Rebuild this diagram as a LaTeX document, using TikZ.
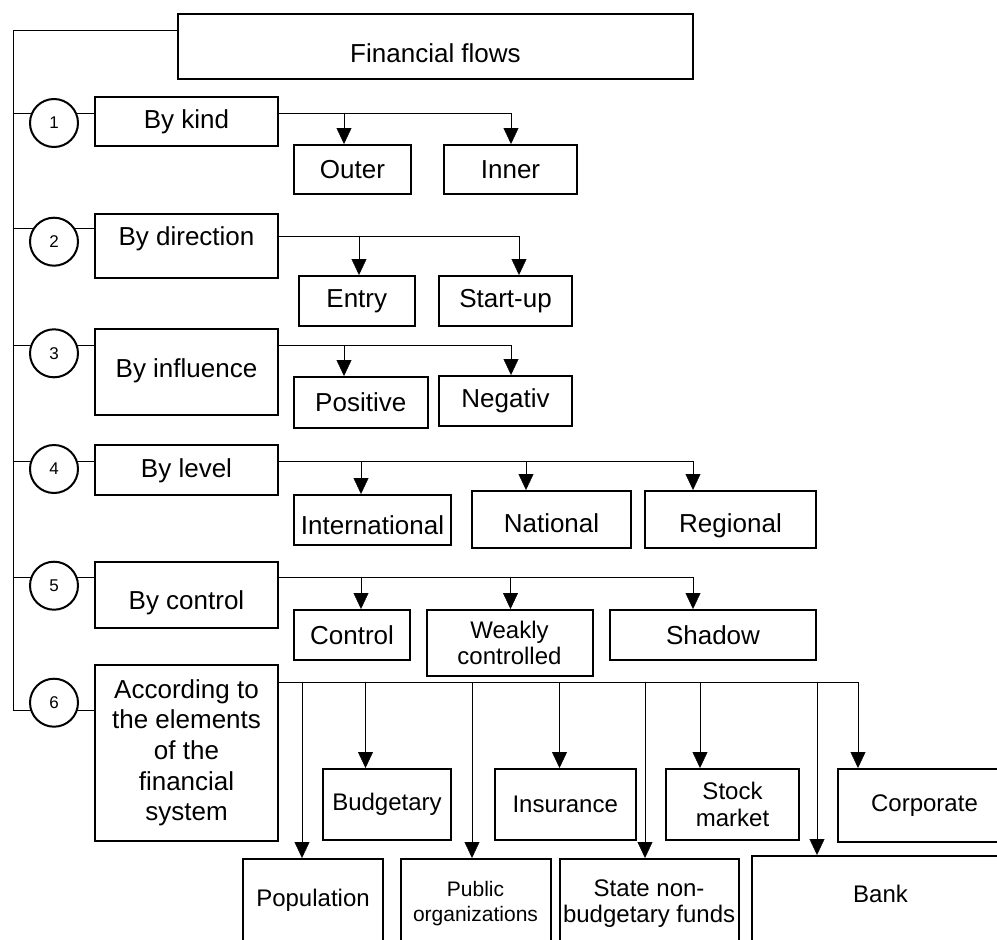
\documentclass[tikz,border=0pt]{standalone}
\usepackage{fontspec}
\setmainfont{Liberation Sans}
\usetikzlibrary{arrows.meta,backgrounds}

\newcommand*{\trunkx}{13}
\newcommand*{\numx}{54}
\newcommand*{\colx}{186.5}

\begin{document}
\begin{tikzpicture}
[
	x=1pt, y=-1pt,
	line width=2pt,
	box/.style={draw,fill=white,inner sep=0pt,align=center,font=\fontsize{26}{30.7}\selectfont},
	numcircle/.style={circle,draw,fill=white,inner sep=0pt,minimum size=48pt,font=\fontsize{17}{17}\selectfont},
	midtext/.style={font=\fontsize{24}{26.7}\selectfont},
	smalltext/.style={font=\fontsize{21}{25}\selectfont},
	arr/.style={-{Triangle[length=16pt,width=15pt]}}
]

	\useasboundingbox (0,0) rectangle (997,940);
	\clip (0,0) rectangle (997,940);

	% title
	\node[box,anchor=north,minimum width=515pt,text height=48.7pt,text depth=16.3pt] (flows) at (435.5,13) {Financial flows};

	% numbers
	\node[numcircle] (n1) at (\numx,123) {1};
	\node[numcircle] (n2) at (\numx,241.7) {2};
	\node[numcircle] (n3) at (\numx,353.3) {3};
	\node[numcircle] (n4) at (\numx,469) {4};
	\node[numcircle] (n5) at (\numx,585.7) {5};
	\node[numcircle] (n6) at (\numx,702.7) {6};

	% criteria
	\node[box,anchor=north,minimum width=183pt,text height=31.3pt,text depth=17.7pt] (kind) at (\colx,96) {By kind};
	\node[box,anchor=north,minimum width=183pt,text height=31.3pt,text depth=32.5pt] (direction) at (\colx,212.7) {By direction};
	\node[box,anchor=north,minimum width=183pt,text height=48.4pt,text depth=37.6pt] (influence) at (\colx,328.3) {By influence};
	\node[box,anchor=north,minimum width=183pt,text height=32.7pt,text depth=17.3pt] (level) at (\colx,444) {By level};
	\node[box,anchor=north,minimum width=183pt,text height=47.3pt,text depth=18.7pt] (control) at (\colx,561) {By control};
	\node[box,anchor=north,minimum width=183pt,text height=155.8pt,text depth=20.2pt] (elements) at (\colx,664) {According to\\the elements\\of the\\financial\\system};

	% kinds of flows
	\node[box,minimum width=117pt,minimum height=49pt] (outer) at (352.5,169.5) {Outer};
	\node[box,minimum width=133pt,minimum height=49pt] (inner) at (510.5,169.5) {Inner};
	\node[box,minimum width=116.5pt,minimum height=50pt] (entry) at (356.75,301) {Entry};
	\node[box,minimum width=133pt,minimum height=50pt] (startup) at (505.5,301) {Start-up};
	\node[box,minimum width=133.5pt,minimum height=51pt] (positive) at (360.75,402.5) {Positive};
	\node[box,minimum width=133pt,minimum height=50pt] (negativ) at (505.5,401) {Negativ};
	\node[box,anchor=north,minimum width=157pt,text height=39.3pt,text depth=10.7pt] (international) at (372.5,494) {International};
	\node[box,anchor=north,minimum width=159pt,text height=41pt,text depth=16pt] (national) at (551.5,490) {National};
	\node[box,anchor=north,minimum width=171pt,text height=41pt,text depth=16pt] (regional) at (730.5,490) {Regional};
	\node[box,minimum width=116pt,minimum height=50pt] (controlled) at (352,635) {Control};
	\node[box,midtext,minimum width=166pt,minimum height=66pt] (weakly) at (509.5,643) {Weakly\\controlled};
	\node[box,minimum width=206pt,minimum height=50pt] (shadow) at (713,635) {Shadow};

	% elements of the financial system
	\node[box,midtext,minimum width=128pt,minimum height=71pt] (budgetary) at (387,804.5) {Budgetary};
	\node[box,midtext,minimum width=141pt,minimum height=71pt] (insurance) at (565.2,804.5) {Insurance};
	\node[box,midtext,minimum width=133pt,minimum height=71pt] (stock) at (732.5,804.5) {Stock\\market};
	\node[box,midtext,minimum width=173pt,minimum height=73pt] (corporate) at (924.5,805.5) {Corporate};
	\node[box,midtext,anchor=north,minimum width=140pt,text height=47.7pt,text depth=60pt] (population) at (313,858) {Population};
	\node[box,smalltext,anchor=north,minimum width=150pt,text height=62pt,text depth=60pt] (public) at (475.5,858) {Public\\organizations};
	\node[box,midtext,anchor=north,minimum width=179pt,text height=63.7pt,text depth=60pt] (state) at (649.1,858) {State non-\\budgetary funds};
	\node[box,midtext,anchor=north,minimum width=257pt,text height=46.7pt,text depth=60pt] (bank) at (880.5,855) {Bank};

	\begin{scope}[on background layer]
		% trunk
		\coordinate (top) at (\trunkx,30);
		\coordinate (t1) at (\trunkx,112.7);
		\coordinate (t2) at (\trunkx,228.3);
		\coordinate (t3) at (\trunkx,345);
		\coordinate (t4) at (\trunkx,461);
		\coordinate (t5) at (\trunkx,576.7);
		\coordinate (t6) at (\trunkx,710);
		\draw (flows.west |- top) -- (top) -- (t6) -- (t6 -| elements.west);
		\foreach \t/\k in {t1/kind,t2/direction,t3/influence,t4/level,t5/control}
			\draw (\t) -- (\t -| \k.west);

		% 1
		\coordinate (b1a) at (344,112.7);
		\coordinate (b1b) at (511,112.7);
		\draw[arr] (kind.east |- b1b) -- (b1b) -- (b1b |- inner.north);
		\draw[arr] (b1a) -- (b1a |- outer.north);
		% 2
		\coordinate (b2a) at (359,235.7);
		\coordinate (b2b) at (519,235.7);
		\draw[arr] (direction.east |- b2b) -- (b2b) -- (b2b |- startup.north);
		\draw[arr] (b2a) -- (b2a |- entry.north);
		% 3
		\coordinate (b3a) at (344,345);
		\coordinate (b3b) at (511,345);
		\draw[arr] (influence.east |- b3b) -- (b3b) -- (b3b |- negativ.north);
		\draw[arr] (b3a) -- (b3a |- positive.north);
		% 4
		\coordinate (b4a) at (361,461);
		\coordinate (b4b) at (526,461);
		\coordinate (b4c) at (693,461);
		\draw[arr] (level.east |- b4c) -- (b4c) -- (b4c |- regional.north);
		\draw[arr] (b4a) -- (b4a |- international.north);
		\draw[arr] (b4b) -- (b4b |- national.north);
		% 5
		\coordinate (b5a) at (361,576.7);
		\coordinate (b5b) at (510.5,576.7);
		\coordinate (b5c) at (693,576.7);
		\draw[arr] (control.east |- b5c) -- (b5c) -- (b5c |- shadow.north);
		\draw[arr] (b5a) -- (b5a |- controlled.north);
		\draw[arr] (b5b) -- (b5b |- weakly.north);
		% 6
		\coordinate (b6a) at (302,682);
		\coordinate (b6b) at (365.5,682);
		\coordinate (b6c) at (472,682);
		\coordinate (b6d) at (559.5,682);
		\coordinate (b6e) at (645,682);
		\coordinate (b6f) at (700,682);
		\coordinate (b6g) at (817,682);
		\coordinate (b6h) at (858,682);
		\draw[arr] (elements.east |- b6h) -- (b6h) -- (b6h |- corporate.north);
		\foreach \c/\n in {b6a/population,b6b/budgetary,b6c/public,b6d/insurance,b6e/state,b6f/stock,b6g/bank}
			\draw[arr] (\c) -- (\c |- \n.north);
	\end{scope}

\end{tikzpicture}
\end{document}
